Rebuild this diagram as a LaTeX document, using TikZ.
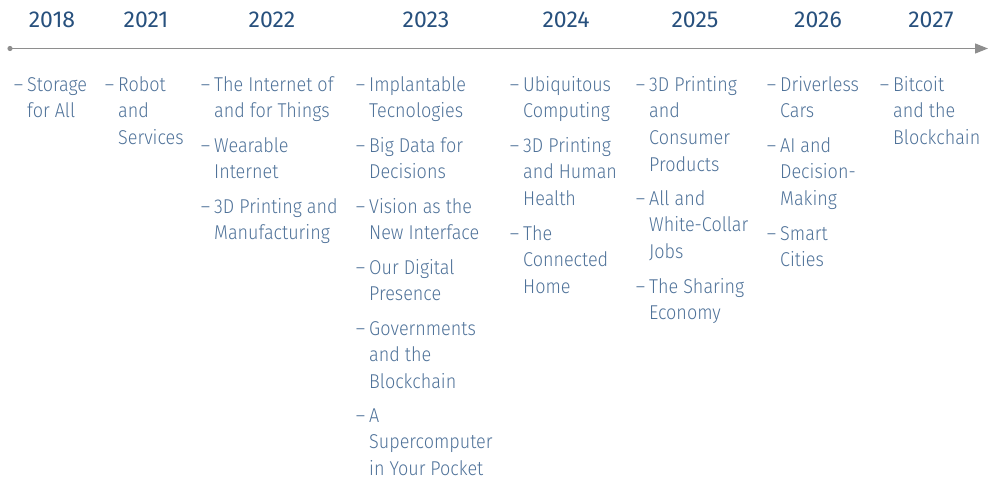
\documentclass[tikz,border=0pt]{standalone}
\usepackage{fontspec}
\setmainfont{Fira Sans Light}[FakeStretch=0.9]
\newfontfamily\yearfont{Fira Sans}
\usetikzlibrary{arrows.meta}

\definecolor{yearblue}{HTML}{27507D}
\definecolor{itemblue}{HTML}{4F7299}
\definecolor{axisgrey}{HTML}{8E8E8E}

\tikzset{
  year/.style={anchor=base, inner sep=0pt, text=yearblue,
    font=\yearfont\fontsize{23}{27}\selectfont},
  entry/.style={anchor=north west, inner sep=0pt, align=left, text=itemblue,
    font=\fontsize{20}{26.6}\selectfont},
  axis/.style={draw=axisgrey, line width=1.3pt,
    -{Triangle[length=13pt,width=10pt]}}
}
% hanging dash plus a fixed-height strut, so every entry's top lies 15pt above its first baseline
\newcommand{\dashitem}{\rule{0pt}{15pt}\llap{\textendash\hspace{4pt}}}

\begin{document}
\begin{tikzpicture}[x=1pt,y=-1pt]
\useasboundingbox (0,0) rectangle (988,478);

% time axis
\coordinate (axstart) at (10,48.5);
\coordinate (axend) at (988,48.5);
\fill[axisgrey] (axstart) circle (2.6pt);
\draw[axis] (axstart) -- (axend);

% years
\node[year] (y2018) at (52,28)  {2018};
\node[year] (y2021) at (146,28) {2021};
\node[year] (y2022) at (272,28) {2022};
\node[year] (y2023) at (426,28) {2023};
\node[year] (y2024) at (566,28) {2024};
\node[year] (y2025) at (695,28) {2025};
\node[year] (y2026) at (818,28) {2026};
\node[year] (y2027) at (931,28) {2027};

% entries: the y value is the first baseline minus 15pt
% 2018
\node[entry] (a1) at (27,76) {\dashitem Storage\\for All};
% 2021
\node[entry] (b1) at (118,76) {\dashitem Robot\\and\\Services};
% 2022
\node[entry] (c1) at (214,76)  {\dashitem The Internet of\\and for Things};
\node[entry] (c2) at (214,137) {\dashitem Wearable\\Internet};
\node[entry] (c3) at (214,198) {\dashitem 3D Printing and\\Manufacturing};
% 2023
\node[entry] (d1) at (369,76)  {\dashitem Implantable\\Tecnologies};
\node[entry] (d2) at (369,137) {\dashitem Big Data for\\Decisions};
\node[entry] (d3) at (369,198) {\dashitem Vision as the\\New Interface};
\node[entry] (d4) at (369,259) {\dashitem Our Digital\\Presence};
\node[entry] (d5) at (369,320) {\dashitem Governments\\and the\\Blockchain};
\node[entry] (d6) at (369,407) {\dashitem A\\Supercomputer\\in Your Pocket};
% 2024
\node[entry] (e1) at (523,76)  {\dashitem Ubiquitous\\Computing};
\node[entry] (e2) at (523,137) {\dashitem 3D Printing\\and Human\\Health};
\node[entry] (e3) at (523,225) {\dashitem The\\Connected\\Home};
% 2025
\node[entry] (f1) at (649,76)  {\dashitem 3D Printing\\and\\Consumer\\Products};
\node[entry] (f2) at (649,190) {\dashitem All and\\White-Collar\\Jobs};
\node[entry] (f3) at (649,278) {\dashitem The Sharing\\Economy};
% 2026
\node[entry] (g1) at (780,76)  {\dashitem Driverless\\Cars};
\node[entry] (g2) at (780,137) {\dashitem AI and\\Decision-\\Making};
\node[entry] (g3) at (780,225) {\dashitem Smart\\Cities};
% 2027
\node[entry] (h1) at (893,76)  {\dashitem Bitcoit\\and the\\Blockchain};
\end{tikzpicture}
\end{document}
